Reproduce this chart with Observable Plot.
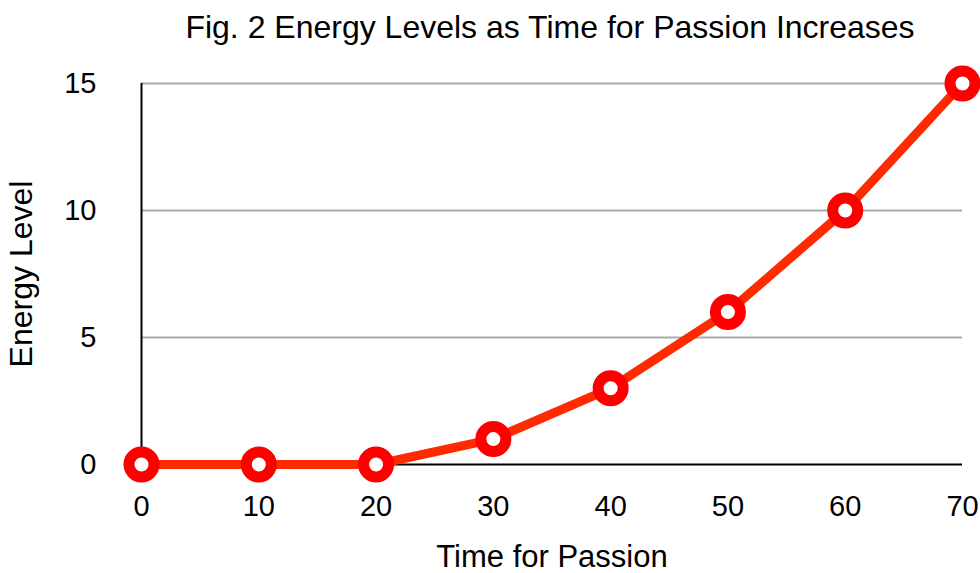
<!DOCTYPE html>
<html>
<head>
<meta charset="utf-8">
<script src="https://cdn.jsdelivr.net/npm/d3@7"></script>
<script src="https://cdn.jsdelivr.net/npm/@observablehq/plot@0.6"></script>
<style>
  body { margin: 0; background: #fff; font-family: "Liberation Sans", Arial, Helvetica, sans-serif; }
  #wrap { width: 980px; height: 573px; position: relative; overflow: hidden; }
  #title { position: absolute; left: 139px; width: 822px; top: 11px; line-height: 32px; text-align: center; font-size: 32px; color: #000; white-space: nowrap; }
  #chart { position: absolute; left: 0; top: 56px; }
</style>
</head>
<body>
<div id="wrap">
  <div id="title">Fig. 2 Energy Levels as Time for Passion Increases</div>
  <div id="chart"></div>
</div>
<script>
const time = [0, 10, 20, 30, 40, 50, 60, 70];
const energy = [0, 0, 0, 1, 3, 6, 10, 15];
const xTicks = [0, 10, 20, 30, 40, 50, 60, 70];
const yTicks = [0, 5, 10, 15];
const xLabel = "Time for Passion";
const yLabel = "Energy Level";
const data = time.map((t, i) => ({time: t, energy: energy[i]}));

const chart = Plot.plot({
  width: 980,
  height: 517,
  marginLeft: 141,
  marginRight: 18,
  marginTop: 27,
  marginBottom: 109,
  style: {fontFamily: '"Liberation Sans", Arial, Helvetica, sans-serif', fontSize: "30px", color: "#000", background: "#fff", overflow: "visible"},
  x: {domain: [0, 70]},
  y: {domain: [0, 15]},
  marks: [
    Plot.gridY(yTicks.filter(d => d > 0), {stroke: "#aaa", strokeOpacity: 1, strokeWidth: 2}),
    Plot.ruleX([0], {stroke: "#000", strokeWidth: 2}),
    Plot.ruleY([0], {stroke: "#000", strokeWidth: 2}),
    Plot.axisX(xTicks, {tickSize: 0, tickPadding: 31, fontSize: 29, label: null}),
    Plot.axisX([], {fontSize: 31, label: xLabel, labelAnchor: "center", labelArrow: "none", labelOffset: 102}),
    Plot.axisY(yTicks, {tickSize: 0, tickPadding: 45, fontSize: 29, label: null}),
    Plot.axisY([], {fontSize: 32, label: yLabel, labelAnchor: "center", labelArrow: "none", labelOffset: 132}),
    Plot.line(data, {x: "time", y: "energy", stroke: "#ff2a00", strokeWidth: 9, clip: false}),
    Plot.dot(data, {x: "time", y: "energy", r: 12.5, fill: "#fff", stroke: "#ff0000", strokeWidth: 11})
  ]
});
document.getElementById("chart").appendChild(chart);
</script>
</body>
</html>
